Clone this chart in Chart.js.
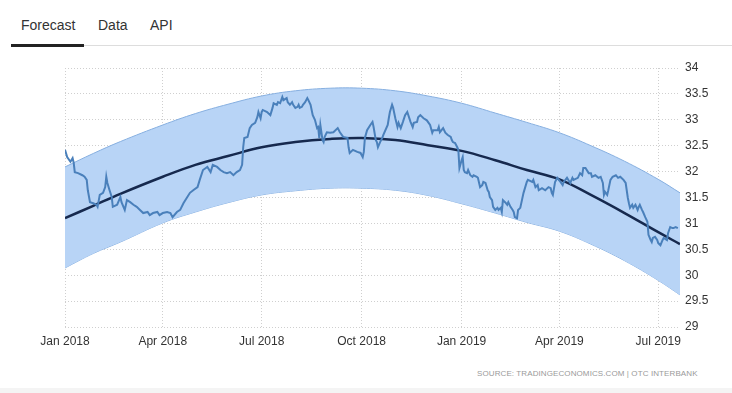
<!DOCTYPE html>
<html>
<head>
<meta charset="utf-8">
<script src="https://cdn.jsdelivr.net/npm/chart.js@4.4.1/dist/chart.umd.min.js"></script>
<style>
    body { margin: 0; background: #fff; font-family: "Liberation Sans", Arial, sans-serif; }
    #wrap { position: relative; width: 732px; height: 393px; overflow: hidden; }
    .tab { position: absolute; top: 17px; font-size: 14px; color: #333; }
    #tabline { position: absolute; left: 11px; top: 45px; width: 721px; height: 1px; background: #ddd; }
    #tabactive { position: absolute; left: 11px; top: 44px; width: 73px; height: 3px; background: #222; }
    #chartbox { position: absolute; left: 0; top: 55px; width: 732px; height: 300px; }
    #source { position: absolute; left: 477px; top: 369px; font-size: 8px; color: #9a9a9a; letter-spacing: 0.1px; }
    #bottomline { position: absolute; left: 0; top: 388px; width: 732px; height: 5px; background: #f4f4f4; }
</style>
</head>
<body>
<div id="wrap">
    <div class="tab" style="left:21px">Forecast</div>
    <div class="tab" style="left:98px">Data</div>
    <div class="tab" style="left:150px">API</div>
    <div id="tabline"></div>
    <div id="tabactive"></div>
    <div id="chartbox"><canvas id="myChart"></canvas></div>
    <div id="source">SOURCE: TRADINGECONOMICS.COM | OTC INTERBANK</div>
    <div id="bottomline"></div>
</div>
<script>
// days counted from 1 Jan 2018
const xTickDays = [0, 90, 181, 273, 365, 455, 546];
const xTickLabels = ["Jan 2018", "Apr 2018", "Jul 2018", "Oct 2018", "Jan 2019", "Apr 2019", "Jul 2019"];

const rateDays = [0, 2, 5, 7, 8, 9, 12, 16, 18, 20, 21, 23, 26, 29, 30, 32, 35, 37, 38, 39, 41, 43, 44, 48, 51, 52, 55, 57, 60, 63, 66, 69, 72, 76, 78, 81, 85, 87, 90, 94, 97, 99, 103, 106, 109, 112, 115, 118, 122, 124, 127, 131, 134, 136, 140, 143, 146, 149, 152, 155, 158, 161, 163, 164, 165, 168, 170, 172, 175, 177, 178, 180, 181, 182, 186, 189, 191, 192, 195, 196, 198, 200, 201, 204, 205, 207, 209, 210, 212, 214, 215, 216, 218, 219, 221, 223, 224, 226, 228, 230, 232, 233, 234, 235, 237, 238, 239, 241, 244, 247, 251, 253, 256, 260, 261, 262, 265, 269, 272, 274, 275, 276, 278, 281, 283, 284, 286, 287, 288, 290, 292, 293, 297, 298, 299, 301, 302, 304, 306, 307, 309, 311, 313, 315, 318, 320, 321, 324, 325, 327, 330, 333, 336, 338, 339, 343, 344, 345, 348, 350, 352, 355, 356, 357, 359, 361, 362, 363, 365, 366, 367, 368, 370, 371, 373, 375, 376, 379, 380, 382, 384, 385, 387, 389, 390, 391, 393, 394, 396, 398, 399, 401, 402, 403, 405, 407, 408, 410, 412, 413, 414, 416, 417, 419, 422, 425, 426, 430, 431, 433, 435, 436, 439, 442, 445, 447, 448, 449, 451, 453, 456, 458, 459, 462, 465, 467, 468, 472, 474, 476, 477, 479, 482, 484, 485, 488, 491, 493, 495, 496, 497, 499, 500, 502, 504, 507, 509, 511, 514, 516, 518, 519, 520, 522, 523, 525, 527, 528, 529, 531, 532, 534, 536, 537, 539, 540, 541, 543, 545, 546, 548, 550, 551, 554, 555, 557, 559, 560, 562, 564];
const rateValues = [32.42, 32.28, 32.19, 32.26, 32.17, 31.99, 31.97, 31.93, 31.90, 31.84, 31.64, 31.41, 31.39, 31.36, 31.32, 31.55, 31.59, 31.70, 31.90, 31.78, 31.64, 31.51, 31.32, 31.36, 31.51, 31.41, 31.26, 31.45, 31.41, 31.36, 31.32, 31.26, 31.20, 31.22, 31.16, 31.20, 31.22, 31.16, 31.20, 31.22, 31.20, 31.12, 31.22, 31.26, 31.39, 31.49, 31.59, 31.64, 31.70, 31.84, 32.03, 32.09, 31.99, 32.13, 32.09, 32.03, 31.99, 31.97, 31.99, 31.93, 31.99, 32.03, 32.13, 32.47, 32.65, 32.67, 32.84, 32.90, 32.94, 33.05, 33.15, 33.03, 33.15, 33.19, 33.15, 33.09, 33.23, 33.32, 33.29, 33.34, 33.32, 33.44, 33.38, 33.42, 33.34, 33.29, 33.34, 33.29, 33.23, 33.25, 33.29, 33.23, 33.25, 33.29, 33.34, 33.42, 33.38, 33.29, 33.09, 33.00, 32.84, 32.86, 32.65, 32.90, 32.61, 32.57, 32.67, 32.76, 32.75, 32.76, 32.84, 32.76, 32.67, 32.65, 32.47, 32.36, 32.42, 32.38, 32.36, 32.28, 32.38, 32.65, 32.80, 32.90, 32.96, 32.86, 32.61, 32.57, 32.47, 32.57, 32.65, 32.71, 32.90, 33.03, 33.15, 33.29, 33.23, 33.03, 32.86, 32.94, 32.84, 32.96, 33.09, 33.15, 32.96, 32.86, 32.94, 32.96, 33.05, 33.09, 33.03, 32.99, 32.90, 32.75, 32.80, 32.80, 32.86, 32.76, 32.84, 32.75, 32.71, 32.67, 32.61, 32.57, 32.55, 32.47, 32.42, 32.07, 32.22, 32.28, 32.03, 31.99, 31.97, 32.03, 31.93, 31.90, 31.93, 31.90, 31.88, 31.70, 31.74, 31.80, 31.78, 31.64, 31.61, 31.51, 31.45, 31.32, 31.26, 31.30, 31.26, 31.30, 31.22, 31.45, 31.41, 31.36, 31.41, 31.32, 31.26, 31.22, 31.12, 31.10, 31.26, 31.30, 31.59, 31.80, 31.84, 31.80, 31.84, 31.70, 31.74, 31.64, 31.68, 31.64, 31.70, 31.68, 31.59, 31.55, 31.80, 31.88, 31.80, 31.74, 31.80, 31.88, 31.78, 31.88, 31.84, 31.88, 31.97, 31.93, 32.07, 32.07, 31.97, 31.97, 31.90, 31.93, 31.88, 31.90, 31.78, 31.55, 31.61, 31.55, 31.64, 31.84, 31.90, 31.93, 31.88, 31.90, 31.84, 31.78, 31.49, 31.39, 31.30, 31.36, 31.30, 31.36, 31.26, 31.32, 31.36, 31.26, 31.22, 31.12, 31.03, 30.78, 30.68, 30.64, 30.72, 30.74, 30.68, 30.62, 30.58, 30.68, 30.72, 30.68, 30.81, 30.93, 30.91, 30.91, 30.93, 30.91];

const bandDays = [0, 26, 51, 90, 120, 150, 181, 212, 244, 273, 304, 334, 365, 396, 425, 455, 484, 515, 546, 566];
const trendValues = [31.10, 31.34, 31.57, 31.90, 32.13, 32.30, 32.47, 32.57, 32.63, 32.65, 32.61, 32.51, 32.40, 32.22, 32.03, 31.85, 31.55, 31.20, 30.83, 30.60];
const upperValues = [32.09, 32.35, 32.58, 32.90, 33.12, 33.30, 33.46, 33.56, 33.61, 33.61, 33.56, 33.46, 33.32, 33.13, 32.95, 32.75, 32.50, 32.20, 31.85, 31.59];
const lowerValues = [30.14, 30.42, 30.64, 31.01, 31.22, 31.40, 31.55, 31.63, 31.68, 31.68, 31.64, 31.54, 31.38, 31.20, 31.02, 30.85, 30.60, 30.28, 29.90, 29.62];

function pairs(xs, ys) {
    return xs.map((x, i) => ({ x: x, y: ys[i] }));
}

const ctx = document.getElementById('myChart').getContext("2d");

const rateChart = new Chart(ctx, {
    type: 'line',
    data: {
        datasets: [{
            label: 'Rate',
            data: pairs(rateDays, rateValues),
            borderColor: "#4a80bb",
            borderWidth: 2,
            pointRadius: 0,
            tension: 0,
            fill: false,
            order: 0
        }, {
            label: 'Trend',
            data: pairs(bandDays, trendValues),
            borderColor: "#16294e",
            borderWidth: 2.5,
            pointRadius: 0,
            tension: 0.4,
            fill: false,
            order: 1
        }, {
            label: 'Upper',
            data: pairs(bandDays, upperValues),
            borderColor: "#86afe0",
            backgroundColor: "#b8d4f6",
            borderWidth: 1,
            pointRadius: 0,
            tension: 0.4,
            fill: '+1',
            order: 2
        }, {
            label: 'Lower',
            data: pairs(bandDays, lowerValues),
            borderColor: "#86afe0",
            borderWidth: 1,
            pointRadius: 0,
            tension: 0.4,
            fill: false,
            order: 3
        }]
    },
    options: {
        responsive: true,
        maintainAspectRatio: false,
        animation: false,
        layout: {
            padding: { left: 65, top: 13, right: 0, bottom: 0 }
        },
        scales: {
            x: {
                type: 'linear',
                min: 0,
                max: 566,
                afterBuildTicks: (axis) => {
                    axis.ticks = xTickDays.map(v => ({ value: v }));
                },
                afterFit: (axis) => { axis.height = 28; },
                grid: {
                    color: "#cfcfcf",
                    drawTicks: false
                },
                border: { display: false, dash: [1, 2] },
                ticks: {
                    color: "#333",
                    padding: 7,
                    maxRotation: 0,
                    autoSkip: false,
                    font: { family: "Liberation Sans", size: 12 },
                    callback: (value) => {
                        const i = xTickDays.indexOf(value);
                        return i >= 0 ? xTickLabels[i] : "";
                    }
                }
            },
            y: {
                position: 'right',
                min: 29,
                max: 34,
                afterFit: (axis) => { axis.width = 52; },
                grid: {
                    color: "#cfcfcf",
                    drawTicks: false
                },
                border: { display: false, dash: [1, 2] },
                ticks: {
                    stepSize: 0.5,
                    color: "#333",
                    padding: 5,
                    font: { family: "Liberation Sans", size: 12 },
                    callback: (value) => String(Math.round(value * 10) / 10)
                }
            }
        },
        plugins: {
            legend: { display: false },
            tooltip: { enabled: false }
        }
    }
});
</script>
</body>
</html>
